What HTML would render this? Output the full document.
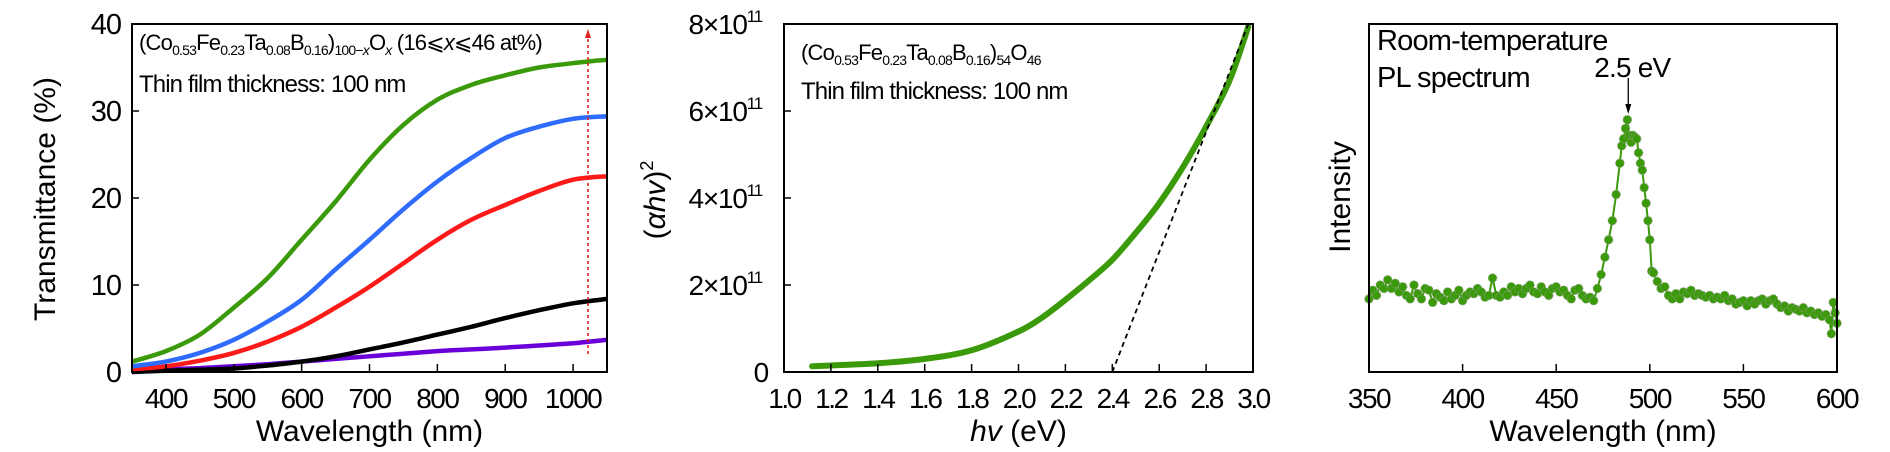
<!DOCTYPE html>
<html><head><meta charset="utf-8"><style>
html,body{margin:0;padding:0;background:#fff;}
svg{display:block;font-family:"Liberation Sans",sans-serif;}
</style></head><body>
<svg id="fig" width="1890" height="452" viewBox="0 0 1890 452" xmlns="http://www.w3.org/2000/svg">
<g id="p1"></g>
<g id="p2"></g>
<g id="p3"></g>
</svg>
<script>
// ---- Panel 1 data ----
const tWl = [350,400,450,500,550,600,650,700,750,800,850,900,950,1000,1050];
const tGreen = [1.2,2.4,4.3,7.4,10.8,15.2,19.6,24.4,28.4,31.3,33.0,34.1,35.0,35.5,35.9];
const tBlue = [0.65,1.2,2.2,3.7,5.8,8.3,11.8,15.2,18.7,21.9,24.6,26.9,28.2,29.1,29.4];
const tRed = [0.3,0.65,1.3,2.2,3.5,5.2,7.4,9.8,12.5,15.2,17.5,19.2,20.8,22.1,22.5];
const tBlack = [0.0,0.15,0.25,0.4,0.75,1.2,1.8,2.6,3.4,4.3,5.2,6.2,7.1,7.9,8.4];
const tPurple = [0.0,0.3,0.45,0.65,0.9,1.2,1.5,1.8,2.1,2.4,2.6,2.8,3.05,3.3,3.7];
const t1XTicks = [400,500,600,700,800,900,1000];
const t1YTicks = [0,10,20,30,40];
const arrowWl = 1022;
// ---- Panel 2 data ----
const hv = [1.12,1.2,1.4,1.6,1.8,2.0,2.1,2.2,2.3,2.4,2.5,2.6,2.7,2.8,2.9,2.98];
const ahv2 = [0.13,0.15,0.2,0.3,0.5,0.93,1.25,1.66,2.1,2.58,3.2,3.88,4.7,5.64,6.7,7.94];
const fitLine = [[2.4,0],[2.98,8.0]];
const t2XTicks = [1.0,1.2,1.4,1.6,1.8,2.0,2.2,2.4,2.6,2.8,3.0];
const t2YTicks = [0,2,4,6,8];
// ---- Panel 3 data ----
const plWl = [350,352,354,356,358,360,362,364,366,368,370,372,374,376,378,380,382,384,386,388,390,392,394,396,398,400,402,404,406,408,410,412,414,416,418,420,422,424,426,428,430,432,434,436,438,440,442,444,446,448,450,452,454,456,458,460,462,464,466,468,470,472,474,476,478,480,482,484,485,486,487,488,489,490,491,492,493,494,495,496,497,498,499,500,501,502,504,506,508,510,512,514,516,518,520,522,524,526,528,530,532,534,536,538,540,542,544,546,548,550,552,554,556,558,560,562,564,566,568,570,572,574,576,578,580,582,584,586,588,590,592,594,596,597,598,599,600];
const plInt = [21,23.5,22,25,24,26.5,24,25.5,23,24.5,22,21,25,22.5,21,24,23.5,20,22.5,21.5,20.5,23,21,22,23.5,20.5,22,23,22.5,24,23,21.5,22,27,22,21.5,23,22,24.5,23,24,22.5,24,25,23,22.5,24.5,23,22,24,24.5,23,23.5,22,21,23.5,24,22,21,21.5,20.5,24,28,33,38,43.5,51,60,65,67,70,72.5,68,66,68,67.5,67,63,60,58,53,48.5,43.5,38,29,28.5,26,24,24.5,22,21,22.5,21,23,22.5,23.5,22,22.5,22,21.5,22,21,21.5,21,22,20.5,21,19.5,20,20.5,19,20.5,19.5,20.5,21,19.5,20.5,21,19.5,18.5,19,17.5,18.5,18,17.5,18.5,17,17.5,16.5,17,16,16.5,15,11,20,17,14];
const t3XTicks = [350,400,450,500,550,600];
const peakWl = 488.5;

const NS = "http://www.w3.org/2000/svg";
function mk(parent, tag, attrs){const e=document.createElementNS(NS,tag);for(const k in attrs)e.setAttribute(k,attrs[k]);parent.appendChild(e);return e;}
function scale(d0,d1,r0,r1){return v=>r0+(v-d0)/(d1-d0)*(r1-r0);}
function smoothPath(pts){
  let d="M"+pts[0][0].toFixed(1)+","+pts[0][1].toFixed(1);
  for(let i=0;i<pts.length-1;i++){
    const p0=pts[Math.max(0,i-1)],p1=pts[i],p2=pts[i+1],p3=pts[Math.min(pts.length-1,i+2)];
    const c1x=p1[0]+(p2[0]-p0[0])/6,c1y=p1[1]+(p2[1]-p0[1])/6;
    const c2x=p2[0]-(p3[0]-p1[0])/6,c2y=p2[1]-(p3[1]-p1[1])/6;
    d+=" C"+c1x.toFixed(1)+","+c1y.toFixed(1)+" "+c2x.toFixed(1)+","+c2y.toFixed(1)+" "+p2[0].toFixed(1)+","+p2[1].toFixed(1);
  }
  return d;
}
const TOP=24, BOT=372;
const COMP_PREFIX='(Co<tspan font-size="14" dy="5">0.53</tspan><tspan dy="-5">Fe</tspan><tspan font-size="14" dy="5">0.23</tspan><tspan dy="-5">Ta</tspan><tspan font-size="14" dy="5">0.08</tspan><tspan dy="-5">B</tspan><tspan font-size="14" dy="5">0.16</tspan><tspan dy="-5">)</tspan>';

// ================= Panel 1 =================
(function(){
  const g=document.getElementById('p1');
  const L=132,R=607;
  const x=scale(350,1050,L,R), y=scale(0,40,BOT,TOP);
  const series=[[tPurple,'#6a00d8','purple'],[tBlack,'#000','black'],[tRed,'#ff1a1a','red'],[tBlue,'#2f6bff','blue'],[tGreen,'#3a9a0a','green']];
  series.forEach(s=>{
    const p=mk(g,'path',{d:smoothPath(tWl.map((w,i)=>[x(w),y(s[0][i])])),fill:'none',stroke:s[1],'stroke-width':4.5});
    
    
  });
  const ax=x(arrowWl);
  const ar=mk(g,'line',{x1:ax,y1:354,x2:ax,y2:36,stroke:'#e02020','stroke-width':1.6,'stroke-dasharray':'3,3'});
  
  
  const ah=mk(g,'path',{d:`M${ax-3},38 L${ax},29 L${ax+3},38 Z`,fill:'#e02020'});
  
  
  const fr=mk(g,'rect',{x:L,y:TOP,width:R-L,height:BOT-TOP,fill:'none',stroke:'#000','stroke-width':2});
  
  
  t1XTicks.forEach(v=>{
    const t=mk(g,'line',{x1:x(v),x2:x(v),y1:BOT,y2:BOT-8,stroke:'#000','stroke-width':1.5});
    
    
    const lb=mk(g,'text',{x:x(v),y:408,'font-size':28,'text-anchor':'middle','letter-spacing':'-1.5'});
    lb.textContent=v;
    
    
  });
  t1YTicks.forEach(v=>{
    if(v>0&&v<40){const t=mk(g,'line',{x1:L,x2:L+7,y1:y(v),y2:y(v),stroke:'#000','stroke-width':1.5});
    
    }
    const lb=mk(g,'text',{x:121,y:y(v)+10,'font-size':29,'text-anchor':'end','letter-spacing':'-1'});
    lb.textContent=v;
    
    
  });
  const xt=mk(g,'text',{x:(L+R)/2,y:441,'font-size':30,'text-anchor':'middle'});
  xt.textContent='Wavelength (nm)';
  
  
  const yt=mk(g,'text',{x:0,y:0,'font-size':30,'text-anchor':'middle',transform:'translate(55,199) rotate(-90)'});
  yt.textContent='Transmittance (%)';
  
  
  const c=mk(g,'text',{x:139,y:50,'font-size':22,'letter-spacing':'-0.8'});
  c.innerHTML=COMP_PREFIX+'<tspan font-size="14" dy="5">100−<tspan font-style="italic">x</tspan></tspan><tspan dy="-5">O</tspan><tspan font-size="14" dy="5" font-style="italic">x</tspan><tspan dy="-5"> (16⩽</tspan><tspan font-style="italic">x</tspan><tspan>⩽46 at%)</tspan>';
  
  
  const th=mk(g,'text',{x:139,y:92,'font-size':24,'letter-spacing':'-0.9'});
  th.textContent='Thin film thickness: 100 nm';
  
  
})();

// ================= Panel 2 =================
(function(){
  const g=document.getElementById('p2');
  const L=784,R=1253;
  const x=scale(1.0,3.0,L,R), y=scale(0,8,BOT,TOP);
  const cv=mk(g,'path',{d:smoothPath(hv.map((h,i)=>[x(h),y(ahv2[i])])),fill:'none',stroke:'#3a9a0a','stroke-width':6,'stroke-linecap':'round'});
  
  
  const fl=mk(g,'line',{x1:x(fitLine[0][0]),y1:y(fitLine[0][1]),x2:x(fitLine[1][0]),y2:y(fitLine[1][1]),stroke:'#000','stroke-width':1.8,'stroke-dasharray':'5,4'});
  
  
  const fr=mk(g,'rect',{x:L,y:TOP,width:R-L,height:BOT-TOP,fill:'none',stroke:'#000','stroke-width':2});
  
  
  t2XTicks.forEach(v=>{
    if(v>1.0&&v<3.0){const t=mk(g,'line',{x1:x(v),x2:x(v),y1:BOT,y2:BOT-8,stroke:'#000','stroke-width':1.5});
    
    }
    const lb=mk(g,'text',{x:x(v),y:408,'font-size':28,'text-anchor':'middle','letter-spacing':'-2.5'});
    lb.textContent=v.toFixed(1);
    
    
  });
  t2YTicks.forEach(v=>{
    if(v>0&&v<8){const t=mk(g,'line',{x1:L,x2:L+7,y1:y(v),y2:y(v),stroke:'#000','stroke-width':1.5});
    
    }
    const lb=mk(g,'text',{x:v===0?768:762,y:y(v)+10,'font-size':28,'text-anchor':'end','letter-spacing':'-1.2'});
    if(v===0) lb.textContent='0';
    else lb.innerHTML=v+'×10<tspan font-size="17" dy="-12">11</tspan>';
    
    
  });
  const xt=mk(g,'text',{x:(L+R)/2,y:441,'font-size':30,'text-anchor':'middle'});
  xt.innerHTML='<tspan font-style="italic">hv</tspan> (eV)';
  
  
  const yt=mk(g,'text',{x:0,y:0,'font-size':30,'text-anchor':'middle',transform:'translate(665,200) rotate(-90)'});
  yt.innerHTML='(<tspan font-style="italic">αhv</tspan>)<tspan font-size="18" dy="-12">2</tspan>';
  
  
  const c=mk(g,'text',{x:801,y:60,'font-size':22,'letter-spacing':'-0.8'});
  c.innerHTML=COMP_PREFIX+'<tspan font-size="14" dy="5">54</tspan><tspan dy="-5">O</tspan><tspan font-size="14" dy="5">46</tspan>';
  
  
  const th=mk(g,'text',{x:801,y:99,'font-size':24,'letter-spacing':'-0.9'});
  th.textContent='Thin film thickness: 100 nm';
  
  
})();

// ================= Panel 3 =================
(function(){
  const g=document.getElementById('p3');
  const L=1369,R=1837;
  const x=scale(350,600,L,R), y=scale(0,100,BOT,TOP);
  const ln=mk(g,'polyline',{points:plWl.map((w,i)=>x(w).toFixed(1)+','+y(plInt[i]).toFixed(1)).join(' '),fill:'none',stroke:'#3a9a0a','stroke-width':2});
  
  
  plWl.forEach((w,i)=>{
    const c=mk(g,'circle',{cx:x(w),cy:y(plInt[i]),r:4.3,fill:'#3a9a0a',stroke:'#8a9a80','stroke-width':0.9,'stroke-dasharray':'1,1'});
    
    
  });
  const fr=mk(g,'rect',{x:L,y:TOP,width:R-L,height:BOT-TOP,fill:'none',stroke:'#000','stroke-width':2});
  
  
  t3XTicks.forEach(v=>{
    if(v>350&&v<600){const t=mk(g,'line',{x1:x(v),x2:x(v),y1:BOT,y2:BOT-8,stroke:'#000','stroke-width':1.5});
    
    }
    const lb=mk(g,'text',{x:x(v),y:408,'font-size':28,'text-anchor':'middle','letter-spacing':'-1.5'});
    lb.textContent=v;
    
    
  });
  const xt=mk(g,'text',{x:(L+R)/2,y:441,'font-size':30,'text-anchor':'middle'});
  xt.textContent='Wavelength (nm)';
  
  
  const yt=mk(g,'text',{x:0,y:0,'font-size':30,'text-anchor':'middle',transform:'translate(1350,197) rotate(-90)'});
  yt.textContent='Intensity';
  
  
  const t1=mk(g,'text',{x:1377,y:50,'font-size':29,'letter-spacing':'-0.8'});
  t1.textContent='Room-temperature';
  
  
  const t2=mk(g,'text',{x:1377,y:87,'font-size':29,'letter-spacing':'-0.8'});
  t2.textContent='PL spectrum';
  
  
  const px=x(peakWl);
  const pk=mk(g,'text',{x:px+4,y:77,'font-size':28,'text-anchor':'middle','letter-spacing':'-0.8'});
  pk.textContent='2.5 eV';
  
  
  const al=mk(g,'line',{x1:px,y1:78,x2:px,y2:108,stroke:'#000','stroke-width':1.3});
  
  
  const ah=mk(g,'path',{d:`M${px-3},104 L${px},114 L${px+3},104 Z`,fill:'#000'});
  
  
})();
</script>
</body></html>
